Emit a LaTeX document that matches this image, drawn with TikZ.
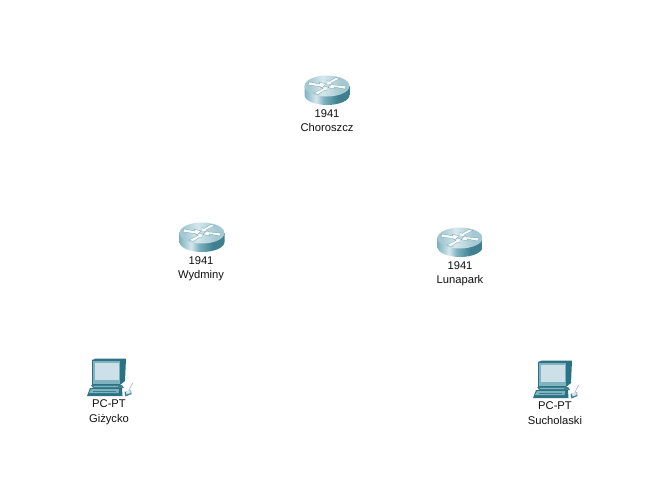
\documentclass[tikz,border=0pt]{standalone}
\usepackage{fontspec}
\setmainfont{Liberation Sans}
\definecolor{tealD}{HTML}{3F7F8E}
\definecolor{tealM}{HTML}{7FB3C0}
\definecolor{tealL}{HTML}{D5E8ED}
\definecolor{tealX}{HTML}{2B7285}
\definecolor{tealT}{HTML}{A5C9D2}
\definecolor{screenC}{HTML}{CDE0E8}
\definecolor{labelC}{HTML}{111111}
\pgfdeclarehorizontalshading{routerbody}{100bp}{color(0bp)=(tealM);color(25bp)=(tealM);color(38bp)=(tealL);color(46bp)=(tealM);color(62bp)=(tealD);color(75bp)=(tealD);color(100bp)=(tealD)}
\pgfdeclarehorizontalshading{routertop}{100bp}{color(0bp)=(tealT);color(30bp)=(tealT);color(45bp)=(tealL);color(65bp)=(tealT);color(100bp)=(tealT)}
\tikzset{
  x=0.75pt,y=-0.75pt,
  devlabel/.style={font=\fontsize{8.4}{11}\selectfont,text=labelC,inner sep=0pt,anchor=base},
  arrowmark/.style={fill=white,fill opacity=.9,draw=tealX,draw opacity=.5,line width=.3pt},
}
\newcommand{\routerdev}[5]{%
  \begin{scope}[shift={(#1,#2-113)}]
    \path[shading=routerbody] (304.5,86) -- (304.5,95) arc[start angle=180,end angle=0,x radius=22.5,y radius=10] -- (349.5,86) -- cycle;
    \path[shading=routertop] (327,86) ellipse[x radius=22.5,y radius=10.5];
    \path[arrowmark] (309,82) -- (320,84) -- (319,82) -- (326,84) -- (322,88) -- (320,86.5) -- (308,85) -- cycle;
    \path[arrowmark] (345,89) -- (334,87) -- (335,89) -- (328,87.5) -- (332,83.5) -- (334,85) -- (346,86) -- cycle;
    \path[arrowmark] (314,93) -- (323,88.5) -- (321,87.5) -- (327,86.5) -- (327,91) -- (325,90) -- (318,94.5) -- cycle;
    \path[arrowmark] (340,78.5) -- (331,83) -- (333,84) -- (327,85) -- (327,80.5) -- (329,81.5) -- (336,77.5) -- cycle;
    \node[devlabel] (#3type) at (327+#5,117.3) {1941};
    \node[devlabel] (#3name) at (327+#5,131.8) {#4};
  \end{scope}}
\newcommand{\pcdev}[4]{%
  \begin{scope}[shift={(#1,#2-403)}]
    \fill[tealX] (92,360) -- (96,358.5) -- (126,358.5) -- (125,381) -- (120,385) -- (92,385) -- cycle;
    \fill[tealM] (93,361) rectangle (120,384);
    \fill[screenC] (95,362.5) rectangle (118.5,380);
    \fill[tealD] (91,385) -- (122,385) -- (124,388) -- (93,388) -- cycle;
    \fill[tealM] (94,385.5) rectangle (118,387);
    \fill[tealX] (90,388) -- (122,388) -- (122.5,396) -- (87,396) -- cycle;
    \fill[tealM] (91,389) -- (119,389) -- (118.5,393) -- (89,393) -- cycle;
    \fill[tealD] (93,390.5) rectangle (116,391.5);
    \fill[tealD] (124.5,392) -- (131,390) -- (131.5,394) -- (125.5,396.5) -- cycle;
    \fill[tealL] (126,391.5) -- (130.5,390) -- (130.5,393) -- (126.5,394.5) -- cycle;
    \draw[gray!55,line width=.5pt] (129,390) .. controls (131,388) and (130,386) .. (133,383);
    \node[devlabel] (#3type) at (109,407.2) {PC-PT};
    \node[devlabel] (#3name) at (109,422.5) {#4};
  \end{scope}}
\begin{document}
\begin{tikzpicture}
  \path[use as bounding box,fill=white] (0,0) rectangle (652,492);
  \routerdev{0}{113}{cho}{Choroszcz}{0}
  \routerdev{-125}{260}{wyd}{Wydminy}{-1}
  \routerdev{133}{265}{lun}{Lunapark}{0}
  \pcdev{0}{403}{giz}{Giżycko}
  \pcdev{446}{405}{suc}{Sucholaski}
\end{tikzpicture}
\end{document}
